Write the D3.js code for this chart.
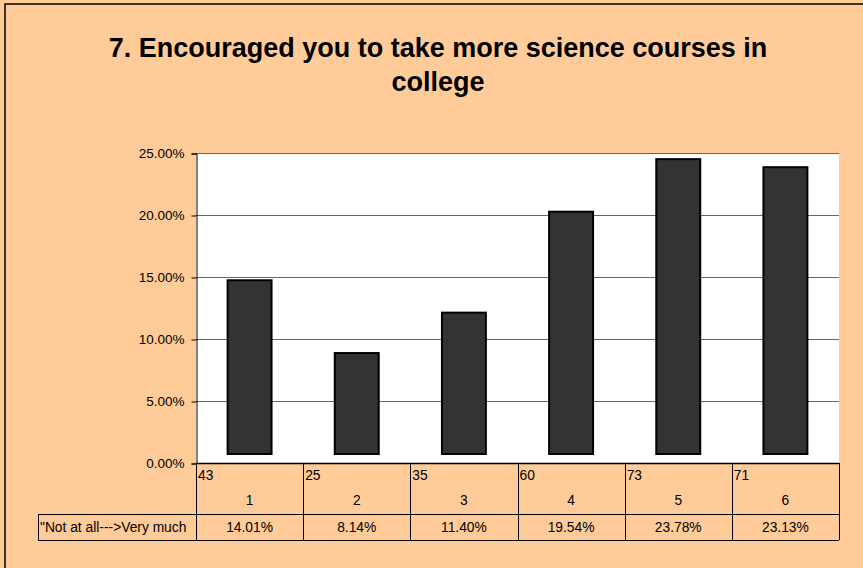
<!DOCTYPE html>
<html>
<head>
<meta charset="utf-8">
<script src="https://cdn.jsdelivr.net/npm/d3@7"></script>
<style>
  html, body { margin: 0; padding: 0; background: #ffcc99; overflow: hidden; }
  text { font-family: "Liberation Sans", Arial, sans-serif; fill: #000; }
</style>
</head>
<body>
<script>
// data
const categories = ['1', '2', '3', '4', '5', '6'];
const counts = [43, 25, 35, 60, 73, 71];
const percents = [0.1401, 0.0814, 0.114, 0.1954, 0.2378, 0.2313];
const yTicks = [0, 0.05, 0.1, 0.15, 0.2, 0.25];
const rowLabel = '"Not at all--->Very much';
const titleLines = ['7. Encouraged you to take more science courses in', 'college'];

const W = 863, H = 568;
const plot = { left: 196, right: 839, top: 153, bottom: 463 };
const row1 = 514, row2 = 540, labelLeft = 38;

const svg = d3.select('body').append('svg')
  .attr('width', W)
  .attr('height', H);

// chart frame
svg.append('rect')
  .attr('x', 5).attr('y', 4)
  .attr('width', W + 10).attr('height', H + 10)
  .attr('fill', '#ffcc99')
  .attr('stroke', '#000')
  .attr('stroke-width', 1.5);

// title
svg.append('g').selectAll('text')
  .data(titleLines)
  .join('text')
  .attr('x', 438)
  .attr('y', (d, i) => 57 + i * 34)
  .attr('text-anchor', 'middle')
  .style('font-size', '27px')
  .style('font-weight', 'bold')
  .text((d) => d);

const x = d3.scaleBand()
  .domain(categories)
  .range([plot.left, plot.right])
  .padding(0);

const y = d3.scaleLinear()
  .domain([0, 0.25])
  .range([plot.bottom, plot.top]);

// plot background
svg.append('rect')
  .attr('x', plot.left).attr('y', plot.top)
  .attr('width', plot.right - plot.left)
  .attr('height', plot.bottom - plot.top)
  .attr('fill', '#fff');

// gridlines
svg.append('g')
  .selectAll('line')
  .data(yTicks.filter((d) => d > 0))
  .join('line')
  .attr('x1', plot.left).attr('x2', plot.right)
  .attr('y1', (d) => Math.round(y(d)) + 0.5)
  .attr('y2', (d) => Math.round(y(d)) + 0.5)
  .attr('stroke', '#666')
  .attr('stroke-width', 1);

// y axis
const yAxis = svg.append('g')
  .attr('transform', `translate(${plot.left + 0.5},0.5)`)
  .call(d3.axisLeft(y).tickValues(yTicks).tickFormat(d3.format('.2%')).tickSize(5).tickPadding(7));
yAxis.select('.domain').attr('stroke', '#000');
yAxis.selectAll('.tick line').attr('stroke', '#000');
yAxis.selectAll('.tick text')
  .attr('fill', '#000')
  .style('font-size', '13.5px')
  .style('font-family', '"Liberation Sans", Arial, sans-serif');

// bars (Excel draws them a few px above the baseline)
const barW = x.bandwidth() * 0.41;
svg.append('g')
  .attr('transform', 'translate(0,-9)')
  .selectAll('rect')
  .data(categories.map((c, i) => ({ c, v: percents[i] })))
  .join('rect')
  .attr('x', (d) => x(d.c) + (x.bandwidth() - barW) / 2)
  .attr('y', (d) => y(d.v))
  .attr('width', barW)
  .attr('height', (d) => y(0) - y(d.v))
  .attr('fill', '#333')
  .attr('stroke', '#000')
  .attr('stroke-width', 2);

// data table
const table = svg.append('g')
  .attr('stroke', '#000')
  .attr('stroke-width', 1)
  .attr('fill', 'none');

table.append('line')
  .attr('x1', plot.left).attr('x2', plot.right)
  .attr('y1', plot.bottom + 0.5).attr('y2', plot.bottom + 0.5)
  .attr('stroke-width', 1.5);
table.append('line')
  .attr('x1', labelLeft).attr('x2', plot.right)
  .attr('y1', row1 + 0.5).attr('y2', row1 + 0.5);
table.append('line')
  .attr('x1', labelLeft).attr('x2', plot.right)
  .attr('y1', row2 + 0.5).attr('y2', row2 + 0.5);
table.append('line')
  .attr('x1', labelLeft + 0.5).attr('x2', labelLeft + 0.5)
  .attr('y1', row1).attr('y2', row2);
table.selectAll('.vline')
  .data(categories.concat(['end']))
  .join('line')
  .attr('class', 'vline')
  .attr('x1', (d) => Math.round(d === 'end' ? plot.right : x(d)) + 0.5)
  .attr('x2', (d) => Math.round(d === 'end' ? plot.right : x(d)) + 0.5)
  .attr('y1', plot.bottom).attr('y2', row2);

const cellText = svg.append('g').style('font-size', '13.8px');

cellText.selectAll('.count')
  .data(categories)
  .join('text')
  .attr('class', 'count')
  .attr('x', (d) => x(d) + 2)
  .attr('y', 480)
  .text((d, i) => counts[i]);

cellText.selectAll('.cat')
  .data(categories)
  .join('text')
  .attr('class', 'cat')
  .attr('x', (d) => x(d) + x.bandwidth() / 2)
  .attr('y', 505)
  .attr('text-anchor', 'middle')
  .text((d) => d);

cellText.selectAll('.pct')
  .data(categories)
  .join('text')
  .attr('class', 'pct')
  .attr('x', (d) => x(d) + x.bandwidth() / 2)
  .attr('y', 532)
  .attr('text-anchor', 'middle')
  .text((d, i) => d3.format('.2%')(percents[i]));

cellText.append('text')
  .attr('x', labelLeft + 2)
  .attr('y', 532)
  .text(rowLabel);
</script>
</body>
</html>
